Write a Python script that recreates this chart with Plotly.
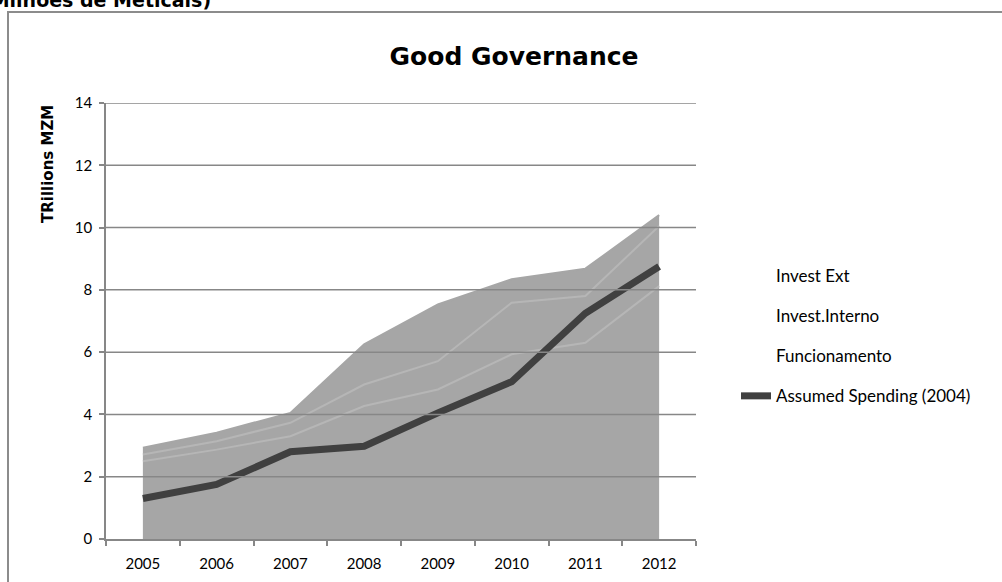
import plotly.graph_objects as go

# ---- data ----
years = ["2005", "2006", "2007", "2008", "2009", "2010", "2011", "2012"]
funcionamento = [2.50, 2.87, 3.30, 4.27, 4.80, 5.93, 6.30, 8.12]
invest_interno = [0.21, 0.27, 0.43, 0.69, 0.91, 1.66, 1.50, 1.93]
invest_ext = [0.22, 0.27, 0.32, 1.29, 1.82, 0.75, 0.88, 0.35]
assumed_spending = [1.30, 1.75, 2.80, 2.98, 4.05, 5.05, 7.25, 8.75]
y_ticks = [0, 2, 4, 6, 8, 10, 12, 14]

FONT = "Lato"
WIDE = "DejaVu Sans"
FILL = "#A6A6A6"
GRID = "#878787"

fig = go.Figure()

# stacked areas
for name, vals, lc in [("Funcionamento", funcionamento, "#B6B6B6"),
                       ("Invest.Interno", invest_interno, "#B6B6B6"),
                       ("Invest Ext", invest_ext, FILL)]:
    fig.add_trace(go.Scatter(x=years, y=vals, stackgroup="one", mode="lines",
                             line=dict(color=lc, width=2), fillcolor=FILL,
                             name=name, showlegend=False, hoverinfo="skip"))

# legend entries for area series (no visible swatch, as in original)
for i, name in enumerate(["Invest Ext", "Invest.Interno", "Funcionamento"]):
    fig.add_trace(go.Scatter(x=[years[0]], y=[None], mode="lines",
                             line=dict(color="rgba(0,0,0,0)", width=1),
                             name=name, legendgroup=name, legendrank=i + 1))

fig.add_trace(go.Scatter(x=years, y=assumed_spending, mode="lines",
                         line=dict(color="#404040", width=7),
                         name="Assumed Spending (2004)", legendgroup="assumed",
                         legendrank=4))

# gridlines drawn above the areas
for v in y_ticks[1:]:
    fig.add_shape(type="line", xref="paper", x0=0, x1=1, yref="y", y0=v, y1=v,
                  line=dict(color=GRID, width=1.5), layer="above")

# outer chart frame
fig.add_shape(type="rect", xref="paper", yref="paper",
              x0=(8 - 106) / 590, x1=2, y0=-1, y1=(539 - 12) / 436,
              line=dict(color="#8C8C8C", width=2), fillcolor="rgba(0,0,0,0)",
              layer="below")

fig.update_layout(
    width=1002, height=582,
    margin=dict(l=106, r=306, t=103, b=43),
    paper_bgcolor="white", plot_bgcolor="white",
    font=dict(family=FONT, color="#000000", size=14),
    title=dict(text="<b>Good Governance</b>", xref="container", x=0.513,
               xanchor="center", yref="container", y=1 - 56 / 582,
               yanchor="middle", font=dict(size=25, family=WIDE, color="#000000")),
    showlegend=True,
    legend=dict(x=(736 - 106) / 590, y=(539 - 258) / 436, xanchor="left",
                yanchor="top", font=dict(size=17, family=FONT, color="#000000"),
                tracegroupgap=15, traceorder="grouped",
                bgcolor="rgba(0,0,0,0)"),
    xaxis=dict(type="category", range=[-0.5, 7.5], showgrid=False, showline=True,
               linecolor=GRID, linewidth=1.5, ticks="outside", tickson="boundaries",
               ticklen=5, tickcolor=GRID, tickwidth=1.5, tickfont=dict(size=15),
               ticklabelstandoff=10, zeroline=False, automargin=False),
    yaxis=dict(range=[0, 14], tickvals=y_ticks, showgrid=False, showline=True,
               linecolor=GRID, linewidth=1.5, ticks="outside", ticklen=5,
               tickcolor=GRID, tickwidth=1.5, tickfont=dict(size=15),
               ticklabelstandoff=4, zeroline=False, automargin=False),
    annotations=[
        dict(text="<b>TRillions MZM</b>", xref="paper", yref="paper",
             x=(48 - 106) / 590, y=(539 - 164) / 436, textangle=-90,
             showarrow=False, xanchor="center", yanchor="middle",
             font=dict(size=15, family=WIDE, color="#000000")),
        dict(text="<b>(Milhões de Meticais)</b>", xref="paper", yref="paper",
             x=(213 - 106) / 590, y=(539 - 13) / 436, xanchor="right",
             yanchor="bottom", showarrow=False,
             font=dict(size=19, family=WIDE, color="#000000")),
    ],
)

fig.write_html("out.html")
